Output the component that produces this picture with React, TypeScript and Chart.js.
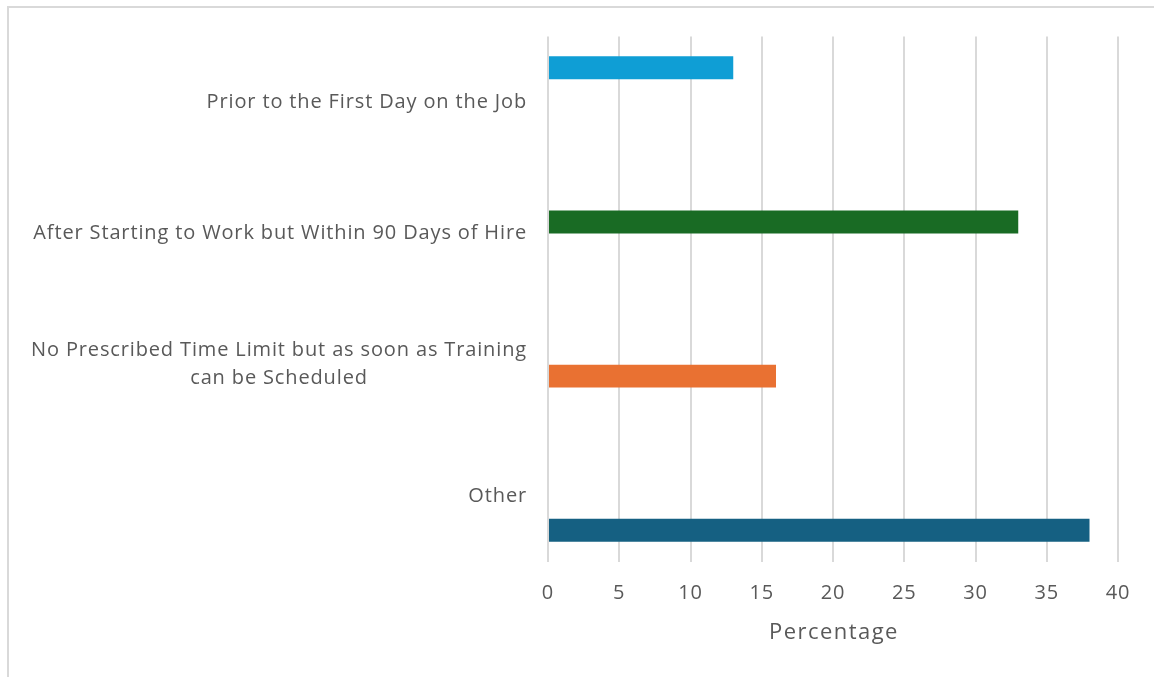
import React, { useEffect, useRef } from 'react';
import { Chart, registerables } from 'chart.js';

Chart.register(...registerables);

const categories: (string | string[])[] = [
  'Prior to the First Day on the Job',
  'After Starting to Work but Within 90 Days of Hire',
  ['No Prescribed Time Limit but as soon as Training', 'can be Scheduled'],
  'Other',
];
const priorValues = [13, null, null, null];
const within90Values = [null, 33, null, null];
const noLimitValues = [null, null, 16, null];
const otherValues = [null, null, null, 38];
const seriesColors = ['#0F9ED5', '#196B24', '#E97132', '#156082'];
const xTickMin = 0;
const xTickMax = 40;
const xTickStep = 5;
const xTitle = 'Percentage';

const FONT = "'Open Sans', 'Liberation Sans', sans-serif";
const TEXT = '#595959';

const textPlugin = {
  id: 'textPlugin',
  beforeUpdate(chart: any) {
    chart.ctx.letterSpacing = '0.86px';
  },
  beforeDraw(chart: any) {
    chart.ctx.letterSpacing = '0.86px';
  },
  afterDraw(chart: any) {
    const ctx = chart.ctx;
    const yScale = chart.scales.y;
    const area = chart.chartArea;
    ctx.save();
    ctx.font = `20px ${FONT}`;
    ctx.letterSpacing = '0.86px';
    ctx.fillStyle = TEXT;
    ctx.textBaseline = 'middle';
    ctx.textAlign = 'center';
    const lineH = 28;
    const right = area.left - 21;
    categories.forEach((cat, i) => {
      const lines = Array.isArray(cat) ? cat : [cat];
      const cy = yScale.getPixelForValue(i);
      const w = Math.max(...lines.map((l) => ctx.measureText(l).width));
      const cx = right - w / 2;
      lines.forEach((l, j) => {
        ctx.fillText(l, cx, cy + (j - (lines.length - 1) / 2) * lineH);
      });
    });
    ctx.font = `22px ${FONT}`;
    ctx.letterSpacing = '1.45px';
    ctx.fillText(xTitle, (area.left + area.right) / 2 + 1, area.bottom + 71.5);
    ctx.restore();
  },
};

export default function App() {
  const ref = useRef<HTMLCanvasElement | null>(null);
  useEffect(() => {
    if (!ref.current) return;
    const chart = new Chart(ref.current, {
      type: 'bar',
      data: {
        labels: categories as any,
        datasets: [priorValues, within90Values, noLimitValues, otherValues].map((d, i) => ({
          label: 'S' + i,
          data: d as any,
          backgroundColor: seriesColors[i],
          borderWidth: 0,
          categoryPercentage: 0.7,
          barPercentage: 1.0,
        })),
      },
      options: {
        indexAxis: 'y',
        animation: false,
        responsive: false,
        maintainAspectRatio: false,
        layout: { padding: { left: 548, right: 36, top: 36.5, bottom: 52.5 } },
        plugins: { legend: { display: false }, tooltip: { enabled: false } },
        scales: {
          y: { display: false },
          x: {
            min: xTickMin,
            max: xTickMax,
            ticks: { stepSize: xTickStep, color: TEXT, font: { family: FONT, size: 20 }, padding: 19.5 },
            grid: { color: '#d9d9d9', lineWidth: 2, drawTicks: false },
            border: { display: false },
            title: { display: false },
          },
        },
      },
      plugins: [textPlugin],
    });
    return () => chart.destroy();
  }, []);
  return (
    <div style={{ position: 'fixed', left: 0, top: 0, width: 1154, height: 677, background: '#fff', overflow: 'hidden' }}>
      <canvas ref={ref} width={1154} height={677} style={{ position: 'absolute', left: 0, top: 0, display: 'block' }} />
      <div
        style={{
          position: 'absolute',
          left: 7,
          top: 6,
          width: 1200,
          height: 700,
          borderLeft: '2px solid #d9d9d9',
          borderTop: '2px solid #d9d9d9',
          pointerEvents: 'none',
        }}
      />
    </div>
  );
}
